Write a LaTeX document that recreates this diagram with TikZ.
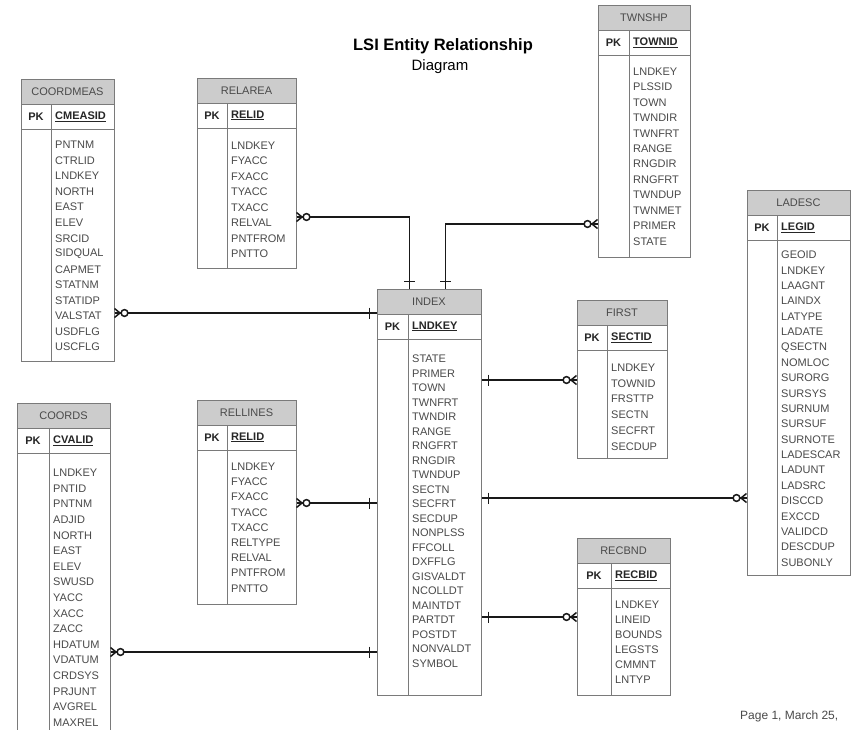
\documentclass[tikz,border=0pt]{standalone}
\usepackage{fontspec}
\setmainfont{Liberation Sans}
\usetikzlibrary{fit,calc}
\definecolor{tabline}{HTML}{7A7A7A}
\definecolor{headfill}{HTML}{CCCCCC}
\definecolor{fieldcol}{HTML}{4A4A4A}
\tikzset{
  tabbox/.style={draw=tabline, line width=1pt, inner sep=0pt},
  headbox/.style={draw=tabline, fill=headfill, line width=1pt},
  tabrule/.style={draw=tabline, line width=1pt},
  headtext/.style={font=\fontsize{11}{13}\selectfont, text=fieldcol, inner sep=0pt},
  pktext/.style={font=\bfseries\fontsize{11}{13}\selectfont, text=black!85, inner sep=0pt},
  fieldtext/.style={font=\fontsize{11}{13}\selectfont, text=fieldcol, inner sep=0pt, anchor=west},
  conn/.style={draw=black!90, line width=1.8pt},
  connend/.style={draw=black!90, line width=1.5pt},
}
\def\fsep{15.5}
\def\ffirst{67}
% #1 name #2 left #3 top #4 right #5 bottom #6 divider #7 title #8 key #9 fields
\newcommand{\ertable}[9]{%
  \node[tabbox, fit={(#2,#3) (#4,#5)}] (#1) {};
  \draw[headbox] (#2,#3) rectangle (#4,#3+25);
  \node[headtext] (#1-title) at ({(#2+#4)/2},#3+12.5) {#7};
  \draw[tabrule] (#2,#3+50) -- (#4,#3+50);
  \draw[tabrule] (#6,#3+25) -- (#6,#5);
  \node[pktext] (#1-pk) at ({(#2+#6)/2},#3+37.5) {PK};
  \node[pktext, anchor=west] (#1-key) at (#6+4,#3+37.5) {\underline{#8}};
  \foreach \f [count=\i] in {#9}
    \node[fieldtext] (#1-f\i) at (#6+4,{#3+\ffirst+(\i-1)*\fsep}) {\f};
}
% crow's foot + circle at coordinate #1, line leaving in direction #2 (+1 right, -1 left)
\newcommand{\crowfoot}[2]{%
  \draw[connend] ($(#1)+(#2*5.5,0)$) -- ($(#1)+(0,-4.5)$)
                 ($(#1)+(#2*5.5,0)$) -- ($(#1)+(0,4.5)$);
  \draw[connend, fill=white] ($(#1)+(#2*10,0)$) circle[radius=3.4pt];
}
% bar on a horizontal connector
\newcommand{\barh}[2]{%
  \draw[connend] ($(#1)+(#2*7,-5.5)$) -- ($(#1)+(#2*7,5.5)$);
}
% bar on a vertical connector entering from above
\newcommand{\barv}[1]{%
  \draw[connend] ($(#1)+(-5.5,-7)$) -- ($(#1)+(5.5,-7)$);
}
\begin{document}
\begin{tikzpicture}[x=1pt,y=-1pt]
\useasboundingbox[fill=white] (0,0) rectangle (852,729);

% title
\node[font=\bfseries\fontsize{16.5}{18}\selectfont, anchor=base, inner sep=0pt] (title1) at (443,50) {LSI Entity Relationship};
\node[font=\fontsize{15}{17}\selectfont, anchor=base, inner sep=0pt] (title2) at (440,70) {Diagram};

% tables
\def\fsep{15.55}\def\ffirst{66}
\ertable{coordmeas}{21}{79}{114}{361}{51}{COORDMEAS}{CMEASID}{PNTNM,CTRLID,LNDKEY,NORTH,EAST,ELEV,SRCID,SIDQUAL,CAPMET,STATNM,STATIDP,VALSTAT,USDFLG,USCFLG}
\def\fsep{15.5}\def\ffirst{67.5}
\ertable{relarea}{197}{78}{296}{268}{227}{RELAREA}{RELID}{LNDKEY,FYACC,FXACC,TYACC,TXACC,RELVAL,PNTFROM,PNTTO}
\def\fsep{15.45}\def\ffirst{66.5}
\ertable{twnshp}{598}{5}{690}{257}{629}{TWNSHP}{TOWNID}{LNDKEY,PLSSID,TOWN,TWNDIR,TWNFRT,RANGE,RNGDIR,RNGFRT,TWNDUP,TWNMET,PRIMER,STATE}
\def\fsep{14.5}\def\ffirst{70}
\ertable{index}{377}{289}{481}{695}{408}{INDEX}{LNDKEY}{STATE,PRIMER,TOWN,TWNFRT,TWNDIR,RANGE,RNGFRT,RNGDIR,TWNDUP,SECTN,SECFRT,SECDUP,NONPLSS,FFCOLL,DXFFLG,GISVALDT,NCOLLDT,MAINTDT,PARTDT,POSTDT,NONVALDT,SYMBOL}
\def\fsep{15.8}\def\ffirst{67.5}
\ertable{first}{577}{300}{667}{458}{607}{FIRST}{SECTID}{LNDKEY,TOWNID,FRSTTP,SECTN,SECFRT,SECDUP}
\def\fsep{15.37}\def\ffirst{65}
\ertable{ladesc}{747}{190}{850}{575}{777}{LADESC}{LEGID}{GEOID,LNDKEY,LAAGNT,LAINDX,LATYPE,LADATE,QSECTN,NOMLOC,SURORG,SURSYS,SURNUM,SURSUF,SURNOTE,LADESCAR,LADUNT,LADSRC,DISCCD,EXCCD,VALIDCD,DESCDUP,SUBONLY}
\def\fsep{15.6}\def\ffirst{70}
\ertable{coords}{17}{403}{110}{745}{49}{COORDS}{CVALID}{LNDKEY,PNTID,PNTNM,ADJID,NORTH,EAST,ELEV,SWUSD,YACC,XACC,ZACC,HDATUM,VDATUM,CRDSYS,PRJUNT,AVGREL,MAXREL}
\def\fsep{15.2}\def\ffirst{66.7}
\ertable{rellines}{197}{400}{296}{604}{227}{RELLINES}{RELID}{LNDKEY,FYACC,FXACC,TYACC,TXACC,RELTYPE,RELVAL,PNTFROM,PNTTO}
\def\fsep{15}\def\ffirst{66.7}
\ertable{recbnd}{577}{538}{670}{695}{611}{RECBND}{RECBID}{LNDKEY,LINEID,BOUNDS,LEGSTS,CMMNT,LNTYP}

% connector end points
\coordinate (c1a) at (relarea.east |- 0,217);
\coordinate (c1b) at ($(index.north west)+(33,0)$);
\coordinate (c2a) at (twnshp.west |- 0,224);
\coordinate (c2b) at ($(index.north west)+(69,0)$);
\coordinate (c3a) at (coordmeas.east |- 0,313);
\coordinate (c3b) at (index.west |- 0,313);
\coordinate (c4a) at (first.west |- 0,380);
\coordinate (c4b) at (index.east |- 0,380);
\coordinate (c5a) at (ladesc.west |- 0,498);
\coordinate (c5b) at (index.east |- 0,498);
\coordinate (c6a) at (rellines.east |- 0,503);
\coordinate (c6b) at (index.west |- 0,503);
\coordinate (c7a) at (recbnd.west |- 0,617);
\coordinate (c7b) at (index.east |- 0,617);
\coordinate (c8a) at (coords.east |- 0,652);
\coordinate (c8b) at (index.west |- 0,652);

% connectors
\draw[conn] (c1a) -| (c1b);
\draw[conn] (c2a) -| (c2b);
\draw[conn] (c3a) -- (c3b);
\draw[conn] (c4a) -- (c4b);
\draw[conn] (c5a) -- (c5b);
\draw[conn] (c6a) -- (c6b);
\draw[conn] (c7a) -- (c7b);
\draw[conn] (c8a) -- (c8b);

\crowfoot{c1a}{1}  \barv{c1b}
\crowfoot{c2a}{-1} \barv{c2b}
\crowfoot{c3a}{1}  \barh{c3b}{-1}
\crowfoot{c4a}{-1} \barh{c4b}{1}
\crowfoot{c5a}{-1} \barh{c5b}{1}
\crowfoot{c6a}{1}  \barh{c6b}{-1}
\crowfoot{c7a}{-1} \barh{c7b}{1}
\crowfoot{c8a}{1}  \barh{c8b}{-1}

% footer
\node[font=\fontsize{12}{14}\selectfont, text=fieldcol, anchor=base west, inner sep=0pt] (footer) at (740,719) {Page 1, March 25,};
\end{tikzpicture}
\end{document}
